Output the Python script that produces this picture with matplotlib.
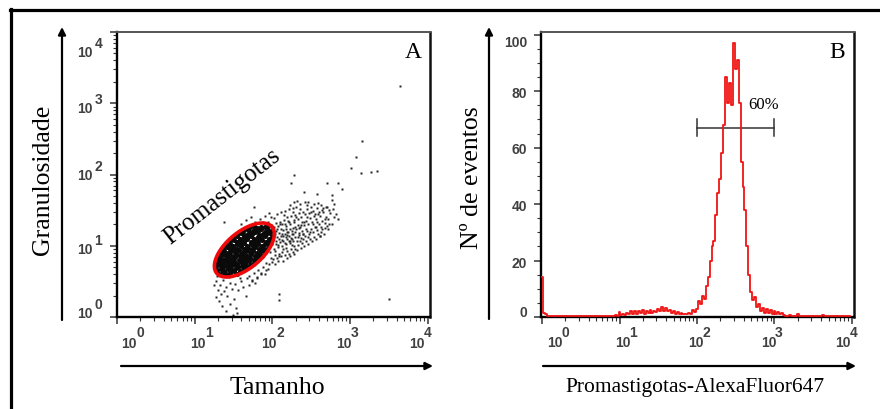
import numpy as np
import matplotlib
matplotlib.use("Agg")
import matplotlib.pyplot as plt
from matplotlib.lines import Line2D
from matplotlib.patches import FancyArrowPatch

# ---------------- data ----------------
# Panel A: FSC (Tamanho) vs SSC (Granulosidade), values stored as log10 of the channel value
core_x = [1.31,1.36,1.40,1.45,1.50,1.55,
          1.29,1.34,1.38,1.43,1.48,1.53,1.58,1.63,
          1.28,1.33,1.37,1.42,1.47,1.51,1.56,1.61,1.66,1.71,
          1.28,1.32,1.37,1.41,1.46,1.51,1.55,1.60,1.65,1.70,1.75,
          1.29,1.34,1.38,1.43,1.48,1.52,1.57,1.62,1.66,1.71,1.76,1.81,
          1.31,1.36,1.40,1.45,1.50,1.54,1.59,1.64,1.68,1.73,1.78,1.83,1.87,
          1.34,1.38,1.43,1.47,1.52,1.57,1.61,1.66,1.71,1.75,1.80,1.85,1.90,
          1.37,1.41,1.46,1.50,1.55,1.60,1.64,1.69,1.74,1.78,1.83,1.88,1.93,
          1.40,1.45,1.49,1.54,1.59,1.63,1.68,1.73,1.77,1.82,1.87,1.91,1.96,
          1.45,1.50,1.54,1.59,1.64,1.68,1.73,1.78,1.82,1.87,1.92,1.97,
          1.49,1.54,1.58,1.63,1.68,1.72,1.77,1.82,1.86,1.91,1.96,2.00,
          1.55,1.60,1.64,1.69,1.74,1.78,1.83,1.88,1.92,1.97,
          1.62,1.67,1.71,1.76,1.81,1.85,1.90,1.95,1.99,
          1.71,1.76,1.80,1.85,1.90,1.94]
core_y = [0.61,0.63,0.60,0.62,0.64,0.61,
          0.66,0.68,0.65,0.67,0.66,0.69,0.65,0.67,
          0.71,0.73,0.70,0.72,0.71,0.74,0.70,0.72,0.71,0.73,
          0.76,0.78,0.75,0.77,0.76,0.79,0.75,0.77,0.76,0.78,0.75,
          0.81,0.83,0.80,0.82,0.81,0.84,0.80,0.82,0.81,0.83,0.80,0.82,
          0.86,0.88,0.85,0.87,0.86,0.89,0.85,0.87,0.86,0.88,0.85,0.87,0.86,
          0.91,0.93,0.90,0.92,0.91,0.94,0.90,0.92,0.91,0.93,0.90,0.92,0.91,
          0.96,0.98,0.95,0.97,0.96,0.99,0.95,0.97,0.96,0.98,0.95,0.97,0.96,
          1.01,1.03,1.00,1.02,1.01,1.04,1.00,1.02,1.01,1.03,1.00,1.02,1.01,
          1.06,1.08,1.05,1.07,1.06,1.09,1.05,1.07,1.06,1.08,1.05,1.07,
          1.11,1.13,1.10,1.12,1.11,1.14,1.10,1.12,1.11,1.13,1.10,1.12,
          1.16,1.18,1.15,1.17,1.16,1.19,1.15,1.17,1.16,1.18,
          1.21,1.23,1.20,1.22,1.21,1.24,1.20,1.22,1.21,
          1.26,1.28,1.25,1.27,1.26,1.28]

# scattered events around the gate (log10 FSC, log10 SSC)
cloud_points = [
    (1.96,0.74),(1.985,0.83),(1.965,0.91),(1.995,0.77),(1.95,1.34),(1.98,1.41),(1.955,1.46),
    (2.012,0.81),(2.035,0.87),(2.02,0.96),(2.044,1.03),(2.006,1.11),(2.031,1.17),(2.023,1.26),
    (2.047,1.32),(2.015,1.39),(2.028,0.75),(2.041,1.21),
    (2.062,0.83),(2.083,0.89),(2.071,0.98),(2.094,1.05),(2.058,1.12),(2.086,1.18),(2.069,1.28),
    (2.097,1.34),(2.064,1.44),(2.079,0.78),(2.092,1.09),(2.074,1.01),
    (2.114,0.85),(2.126,0.91),(2.121,1.00),(2.143,1.07),(2.108,1.13),(2.137,1.22),(2.119,1.30),
    (2.146,1.36),(2.112,1.47),(2.133,0.79),(2.141,1.14),(2.125,1.08),(2.109,1.24),
    (2.163,0.87),(2.184,0.93),(2.171,1.02),(2.192,1.09),(2.158,1.16),(2.179,1.24),(2.168,1.31),
    (2.195,1.40),(2.161,1.49),(2.186,0.83),(2.193,1.15),(2.174,1.12),(2.157,1.04),(2.182,1.28),
    (2.213,0.89),(2.236,0.95),(2.224,1.04),(2.245,1.11),(2.207,1.19),(2.231,1.24),(2.219,1.34),
    (2.242,1.42),(2.216,1.51),(2.233,0.85),(2.248,1.17),(2.221,1.13),(2.209,1.07),(2.229,1.30),
    (2.222,1.57),
    (2.264,0.91),(2.282,0.99),(2.271,1.06),(2.293,1.12),(2.258,1.21),(2.286,1.27),(2.273,1.36),
    (2.296,1.43),(2.262,1.53),(2.284,0.88),(2.291,1.19),(2.268,1.16),(2.259,1.10),(2.281,1.33),
    (2.275,1.61),
    (2.313,0.94),(2.334,1.01),(2.322,1.07),(2.345,1.15),(2.308,1.23),(2.331,1.29),(2.326,1.38),
    (2.342,1.46),(2.311,1.55),(2.337,1.18),(2.347,1.25),(2.319,1.63),
    (2.364,0.97),(2.383,1.04),(2.371,1.11),(2.392,1.17),(2.358,1.26),(2.386,1.33),(2.374,1.41),
    (2.395,1.48),(2.362,1.58),(2.381,1.21),(2.397,1.09),
    (2.413,1.00),(2.434,1.07),(2.421,1.13),(2.446,1.21),(2.409,1.29),(2.432,1.35),(2.424,1.44),
    (2.443,1.51),(2.415,1.61),(2.437,1.24),
    (2.462,1.03),(2.484,1.10),(2.471,1.16),(2.493,1.24),(2.458,1.31),(2.486,1.39),(2.474,1.46),
    (2.495,1.55),(2.463,1.62),
    (2.512,1.06),(2.533,1.12),(2.521,1.20),(2.545,1.27),(2.508,1.34),(2.536,1.42),(2.524,1.49),
    (2.541,1.58),
    (2.563,1.09),(2.584,1.16),(2.572,1.22),(2.596,1.30),(2.558,1.38),(2.587,1.44),(2.575,1.53),
    (2.594,1.60),
    (2.614,1.13),(2.633,1.20),(2.622,1.27),(2.645,1.35),(2.609,1.42),(2.637,1.50),(2.626,1.57),
    (2.663,1.17),(2.684,1.25),(2.672,1.32),(2.695,1.41),(2.658,1.48),(2.687,1.55),
    (2.714,1.23),(2.735,1.31),(2.722,1.38),(2.746,1.46),(2.708,1.54),
    (2.77,1.31),(2.79,1.41),(2.78,1.51),(2.82,1.45),(2.84,1.38),
    (1.60,1.30),(1.66,1.36),(1.72,1.40),(1.78,1.34),(1.84,1.38),(1.90,1.42),(1.88,1.33),(1.93,1.30),
    (1.70,0.58),(1.76,0.62),(1.82,0.66),(1.88,0.70),(1.92,0.76),(1.80,0.56),(1.86,0.62),
    (1.74,0.52),(1.94,0.68),(1.90,0.60),
    (2.05,1.07),(2.09,0.86),(2.13,1.17),(2.17,0.97),(2.20,1.35),(2.25,1.01),(2.29,0.95),
    (2.33,1.12),(2.37,1.29),(2.40,1.16),(2.44,1.40),(2.48,1.19),(2.52,1.30),(2.56,1.26),
    (2.60,1.47),(2.64,1.24),(2.68,1.37),(2.73,1.50),(2.15,1.43),(2.27,1.48),(2.35,1.52),
    (2.45,1.57),(2.55,1.45),(2.65,1.53),(2.00,1.02),(2.03,0.93),(2.06,1.24),(2.10,1.31),
    (2.14,0.95),(2.19,1.20),(2.23,1.07),(2.27,1.25),(2.31,1.41),(2.36,1.06),(2.41,1.33),
    (2.46,1.12),(2.50,1.47),(2.58,1.33),(2.62,1.14),(2.70,1.28),
]
tail_x = [1.28,1.32,1.36,1.40,1.30,1.34,1.38,1.42,1.27,1.31,
          1.45,1.48,1.52,1.56,1.60,1.50,1.46,1.35,1.40,1.53,
          1.62,1.66,1.70,1.74,1.58,1.25,1.29,1.44,1.68,1.49,
          1.55,1.80,1.86,1.78,1.92]
tail_y = [0.50,0.45,0.52,0.42,0.38,0.32,0.36,0.30,0.28,0.22,
          0.48,0.40,0.46,0.38,0.50,0.25,0.18,0.15,0.08,0.12,
          0.42,0.30,0.45,0.50,0.55,0.45,0.58,0.56,0.55,0.03,
          0.05,0.55,0.60,0.48,0.66]

outlier_x = [3.65,3.15,3.08,3.14,3.01,3.27,3.35,3.50,2.08,2.08,2.28,
             2.24,2.41,2.71,2.85,2.90,2.58,2.77,2.77,2.79,1.77,1.38]
outlier_y = [3.24,2.47,2.24,2.02,2.09,2.03,2.05,0.25,0.32,0.24,1.99,
             1.88,1.75,1.88,1.88,1.80,1.73,1.71,1.64,1.58,1.54,1.33]

# gate (log10 units): centre, semi-axes (in x-decades), tilt on screen
gate_center = (1.64, 0.94)
gate_semi = (0.465, 0.232)
gate_angle_deg = 40

# Panel B: histogram, 40 channels per decade from 10^0 to 10^4
channels_per_decade = 40
counts = [14,
          1.5,1.0,0.5,0.5,0.3,0.5,0.5,0.3,0.5,0.5,0.5,0.3,0.5,0.5,0.5,0.5,0.3,0.5,0.5,0.5,
          0.5,0.5,0.3,0.5,0.5,0.5,0.5,0.5,0.5,0.3,0.5,0.5,0.5,0.5,0.5,0.5,0.5,0.8,0.5,
          1.8,0.8,1.2,0.6,1.5,1.0,2.0,1.2,2.2,1.0,2.0,1.5,2.4,1.2,2.2,1.5,2.6,1.4,2.0,1.6,
          2.8,2.0,3.6,2.2,3.2,2.0,2.6,1.5,2.2,1.2,1.6,1.0,1.5,1.0,1.2,1.0,1.5,1.2,2.5,1.8,
          3.0,5.5,4.5,7.5,6.5,11,14,20,25,27,36,44,49,58,68,85,76,83,75,97,
          88,91,76,55,46,38,25,15,9,6,7,3.5,4.5,2.0,3.2,1.5,2.8,1.5,2.5,1.2,
          2.0,1.0,1.8,1.0,1.5,0.8,0.5,0.5,0.8,0.5,0.5,0.5,1.2,0.5,0.5,0.5,0.3,0.5,0.5,0.5,
          0.5,0.5,0.5,0.5,0.5,0.8,0.5,0.5,0.5,0.5,0.5,0.5,0.5,0.5,0.5,0.5,0.5,0.5,0.5,0.5]
gate_range = (1e2, 1e3)
gate_level = 67
gate_pct = "60%"
hist_yticks = [0, 20, 40, 60, 80, 100]
log_exps = [0, 1, 2, 3, 4]

# ---------------- layout ----------------
W, H = 880, 410
fig = plt.figure(figsize=(W / 100, H / 100), dpi=100)
fig.patch.set_facecolor("white")

def fx(px):
    return px / W

def fy(py):
    return 1 - py / H

SERIF = ["Liberation Serif", "DejaVu Serif"]
tickfont = dict(family=["Liberation Sans", "DejaVu Sans"], fontweight="bold",
                fontsize=10, color="#404040")

axA = fig.add_axes([fx(117), fy(318), fx(430) - fx(117), fy(33) - fy(318)])
axB = fig.add_axes([fx(541), fy(318), fx(854) - fx(541), fy(33) - fy(318)])

for ax in (axA, axB):
    ax.set_facecolor("white")
    ax.spines["left"].set(color="black", linewidth=1.7)
    ax.spines["bottom"].set(color="black", linewidth=1.7)
    ax.spines["right"].set(color="#111111", linewidth=1.8)
    ax.spines["top"].set(color="#555555", linewidth=1.4)
    ax.tick_params(which="major", direction="out", length=5, width=1.1, color="#333333",
                   labelleft=False, labelbottom=False, top=False, right=False)
    ax.tick_params(which="minor", direction="out", length=2.8, width=0.8, color="#333333",
                   top=False, right=False)

# ---- Panel A ----
axA.set_xscale("log")
axA.set_yscale("log")
axA.set_xlim(1, 10 ** 4.03)
axA.set_ylim(1, 1e4)
axA.plot(10 ** np.array(core_x), 10 ** np.array(core_y), "o", ms=3.7, color="#0a0a0a",
         mec="none", zorder=2)
cloud_x, cloud_y = np.array(cloud_points).T
for xs, ys in ((cloud_x, cloud_y), (tail_x, tail_y), (outlier_x, outlier_y)):
    axA.plot(10 ** np.array(xs), 10 ** np.array(ys), "s", ms=1.7, color="#262626",
             mec="none", zorder=2)

# gate ellipse, drawn in screen-proportional log units
bbox = axA.get_position()
px_per_dec_x = bbox.width * W / 4.03
px_per_dec_y = bbox.height * H / 4.0
ratio = px_per_dec_x / px_per_dec_y
t = np.linspace(0, 2 * np.pi, 200)
th = np.deg2rad(gate_angle_deg)
u = gate_semi[0] * np.cos(t)
v = gate_semi[1] * np.sin(t)
ex = gate_center[0] + u * np.cos(th) - v * np.sin(th)
ey = gate_center[1] + (u * np.sin(th) + v * np.cos(th)) * ratio
axA.plot(10 ** ex, 10 ** ey, color="#ee0a0a", lw=2.6, zorder=3)

axA.text(0.945, 0.93, "A", transform=axA.transAxes, ha="center", va="center",
         fontsize=17, family=SERIF)
fig.text(fx(222), fy(197), "Promastigotas", rotation=38, ha="center", va="center",
         fontsize=18, family=SERIF, rotation_mode="anchor")

# custom tick labels (10 with a full-size raised exponent)
def x_labels(ax, dxs, base_dy=-26, sup_dy=-15, sup_dx=11):
    for e, dx in zip(log_exps, dxs):
        ax.annotate("10", xy=(10.0 ** e, 0), xycoords=("data", "axes fraction"),
                    xytext=(dx, base_dy), textcoords="offset pixels",
                    ha="center", va="center", annotation_clip=False, **tickfont)
        ax.annotate(str(e), xy=(10.0 ** e, 0), xycoords=("data", "axes fraction"),
                    xytext=(dx + sup_dx, sup_dy), textcoords="offset pixels",
                    ha="center", va="center", annotation_clip=False, **tickfont)

x_labels(axA, [12, 3, -3, -6, -11])
x_labels(axB, [13, 3, -1, -6, -9], base_dy=-25, sup_dy=-15, sup_dx=10.5)

for e, dy in zip(log_exps, [4, -3, -1, -5, -20]):
    axA.annotate("10", xy=(0, 10.0 ** e), xycoords=("axes fraction", "data"),
                 xytext=(-24, dy), textcoords="offset pixels", ha="right", va="center",
                 annotation_clip=False, **tickfont)
    axA.annotate(str(e), xy=(0, 10.0 ** e), xycoords=("axes fraction", "data"),
                 xytext=(-22.5, dy + 9), textcoords="offset pixels", ha="left", va="center",
                 annotation_clip=False, **tickfont)

# ---- Panel B ----
axB.set_xscale("log")
axB.set_xlim(10 ** -0.013, 10 ** 4.026)
axB.set_ylim(0, 101)
axB.set_yticks(hist_yticks)
axB.set_yticks(np.arange(0, 101, 5), minor=True)
chan = np.arange(len(counts)) / channels_per_decade
axB.plot(10 ** chan, counts, drawstyle="steps-mid", color="#f01414", lw=1.3, zorder=3)
for val, dy in zip(hist_yticks, [5, -2, -2, -1, -1.5, -7]):
    axB.annotate(str(val), xy=(0, val), xycoords=("axes fraction", "data"),
                 xytext=(-14, dy), textcoords="offset pixels", ha="right", va="center",
                 annotation_clip=False, **tickfont)

axB.plot(gate_range, [gate_level, gate_level], color="#333333", lw=1.1)
for gx in gate_range:
    axB.plot([gx, gx], [gate_level - 3, gate_level + 3], color="#333333", lw=1.1)
axB.text(10 ** 2.86, 75.5, gate_pct, ha="center", va="center", fontsize=12, family=SERIF)
axB.text(0.945, 0.93, "B", transform=axB.transAxes, ha="center", va="center",
         fontsize=17, family=SERIF)

# ---- axis titles and arrows ----
fig.text(fx(43), fy(180), "Granulosidade", rotation=90, ha="center", va="center",
         fontsize=18.5, family=SERIF)
fig.text(fx(277), fy(388), "Tamanho", ha="center", va="center", fontsize=18.5, family=SERIF)
fig.text(fx(472), fy(178), "Nº de eventos", rotation=90, ha="center", va="center",
         fontsize=18.5, family=SERIF)
fig.text(fx(695), fy(388), "Promastigotas-AlexaFluor647", ha="center", va="center",
         fontsize=15.5, family=SERIF)

for (x0, y0, x1, y1) in [(62, 321, 62, 28), (121, 367, 433, 367),
                         (489, 320, 489, 28), (543, 367, 856, 367)]:
    fig.add_artist(FancyArrowPatch((fx(x0), fy(y0)), (fx(x1), fy(y1)),
                                   transform=fig.transFigure, arrowstyle="-|>",
                                   mutation_scale=11, lw=1.6, color="black",
                                   shrinkA=0, shrinkB=0))

# outer frame (partially visible)
fig.add_artist(Line2D([fx(10), fx(880)], [fy(11), fy(11)], transform=fig.transFigure,
                      color="black", lw=2.3))
fig.add_artist(Line2D([fx(11), fx(11)], [fy(10), fy(410)], transform=fig.transFigure,
                      color="black", lw=2.3))

fig.savefig("out.png", dpi=100)
